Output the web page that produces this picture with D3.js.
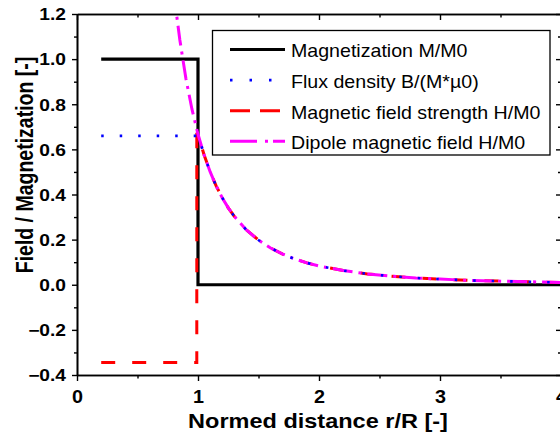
<!DOCTYPE html>
<html lang="en">
<head>
	<meta charset="UTF-8">
	<title>Field / Magnetization</title>
	<script src="https://cdn.jsdelivr.net/npm/d3@7/dist/d3.min.js"></script>
	<style>
		body { margin:0; background:#fff; }
		svg { width:560px; height:437px; display:block; font-family:"Liberation Sans", Arial, sans-serif; }
	</style>
</head>
<body>
<svg></svg>
<script>
// data
var rOuter = [1.0,1.05,1.1,1.15,1.2,1.25,1.3,1.4,1.5,1.6,1.7,1.8,1.9,2.0,2.2,2.4,2.6,2.8,3.0,3.25,3.5,3.75,4.0];
var hOuter = [0.667,0.576,0.501,0.438,0.386,0.341,0.303,0.243,0.198,0.163,0.136,0.114,0.097,0.083,0.063,0.048,0.038,0.030,0.025,0.019,0.016,0.013,0.010];

var magX = [0.2,1.0,1.0,4.0];
var magY = [1.0,1.0,0.0,0.0];

var fluxX = [0.2,1.0].concat(rOuter);
var fluxY = [0.66,0.66].concat(hOuter);

var fieldX = [0.2,0.99,0.99].concat(rOuter);
var fieldY = [-0.345,-0.345,0.667].concat(hOuter);

var dipoleX = [0.8,0.82,0.85,0.9,0.95].concat(rOuter);
var dipoleY = [1.302,1.209,1.085,0.914,0.778].concat(hOuter);

var xTicks = [0,1,2,3,4];
var xMinor = [0.5,1.5,2.5,3.5];
var yTicks = [-0.4,-0.2,0,0.2,0.4,0.6,0.8,1.0,1.2];
var yMinor = [-0.3,-0.1,0.1,0.3,0.5,0.7,0.9,1.1];

var legendLabels = ["Magnetization M/M0","Flux density B/(M*\u00b50)","Magnetic field strength H/M0","Dipole magnetic field H/M0"];

var svg = d3.select("svg");
var loc = {left:77, top:14, right:561, bottom:375};

var xScale = d3.scaleLinear().domain([0,4]).range([loc.left,loc.right]);
var yScale = d3.scaleLinear().domain([-0.4,1.2]).range([loc.bottom,loc.top]);

svg.append("clipPath").attr("id","plotclip")
	.append("rect")
	.attr("x",loc.left).attr("y",loc.top)
	.attr("width",loc.right-loc.left).attr("height",loc.bottom-loc.top);

function zip(xs,ys) {
	return xs.map(function(x,i) { return [x,ys[i]]; });
}

var line = d3.line()
	.x(function(d) { return xScale(d[0]); })
	.y(function(d) { return yScale(d[1]); });

var series = [
	{pts:zip(magX,magY), color:"#000", width:3.2, dash:null, legDash:null},
	{pts:zip(fieldX,fieldY), color:"#ff0000", width:3, dash:"14,17", legDash:"20,10"},
	{pts:zip(dipoleX,dipoleY), color:"#ff00ff", width:3, dash:"20,6,3,6", legDash:"27,8,3,5"},
	{pts:zip(fluxX,fluxY), color:"#0000ff", width:2.6, dash:"2.5,16", legDash:"2.5,17"}
];

var plot = svg.append("g").attr("clip-path","url(#plotclip)");
series.forEach(function(s) {
	plot.append("path")
		.attr("d",line(s.pts))
		.attr("fill","none")
		.attr("stroke",s.color)
		.attr("stroke-width",s.width)
		.attr("stroke-dasharray",s.dash)
		.attr("stroke-linejoin","miter");
});

// axes
function styleAxis(g) {
	g.select(".domain").attr("stroke","#000").attr("stroke-width",1.6);
	g.selectAll(".tick line").attr("stroke","#000").attr("stroke-width",1.4);
}

var bottom = svg.append("g").attr("transform","translate(0,"+loc.bottom+")")
	.call(d3.axisBottom(xScale).tickValues(xTicks).tickSize(6).tickSizeOuter(0).tickFormat(d3.format("d")));
bottom.call(styleAxis);
bottom.selectAll("text")
	.attr("y",15).attr("dy","0.71em")
	.attr("transform","scale(1.07,1)")
	.attr("font-size","18.5px").attr("font-weight","bold").attr("fill","#000")
	.attr("font-family","Liberation Sans, Arial, sans-serif");
svg.append("g").attr("transform","translate(0,"+loc.bottom+")")
	.call(d3.axisBottom(xScale).tickValues(xMinor).tickSize(3.5).tickSizeOuter(0).tickFormat(""))
	.call(styleAxis);

var top = svg.append("g").attr("transform","translate(0,"+loc.top+")")
	.call(d3.axisTop(xScale).tickValues(xTicks).tickSize(-6).tickSizeOuter(0).tickFormat(""))
	.call(styleAxis);
svg.append("g").attr("transform","translate(0,"+loc.top+")")
	.call(d3.axisTop(xScale).tickValues(xMinor).tickSize(-3.5).tickSizeOuter(0).tickFormat(""))
	.call(styleAxis);

var left = svg.append("g").attr("transform","translate("+loc.left+",0)")
	.call(d3.axisLeft(yScale).tickValues(yTicks).tickSize(5).tickSizeOuter(0).tickFormat(d3.format(".1f")));
left.call(styleAxis);
left.selectAll("text")
	.attr("x",-11/1.2).attr("dy","0.36em")
	.attr("transform","scale(1.2,1)")
	.attr("font-size","16px").attr("font-weight","bold").attr("fill","#000")
	.attr("font-family","Liberation Sans, Arial, sans-serif");
svg.append("g").attr("transform","translate("+loc.left+",0)")
	.call(d3.axisLeft(yScale).tickValues(yMinor).tickSize(3).tickSizeOuter(0).tickFormat(""))
	.call(styleAxis);

svg.append("g").attr("transform","translate("+loc.right+",0)")
	.call(d3.axisRight(yScale).tickValues(yTicks).tickSize(-5).tickSizeOuter(0).tickFormat(""))
	.call(styleAxis);
svg.append("g").attr("transform","translate("+loc.right+",0)")
	.call(d3.axisRight(yScale).tickValues(yMinor).tickSize(-3).tickSizeOuter(0).tickFormat(""))
	.call(styleAxis);

// axis titles
svg.append("text")
	.attr("transform","translate(318,428) scale(1.12,1)")
	.attr("text-anchor","middle")
	.attr("font-size","21px").attr("font-weight","bold")
	.text("Normed distance r/R [-]");

svg.append("text")
	.attr("transform","translate(33,165) scale(1.25,1) rotate(-90)")
	.attr("text-anchor","middle")
	.attr("font-size","19.5px").attr("font-weight","bold")
	.text("Field / Magnetization [-]");

// legend
var legend = svg.append("g");
legend.append("rect")
	.attr("x",212.5).attr("y",30.5)
	.attr("width",337.5).attr("height",124.5)
	.attr("fill","#fff").attr("stroke","#000").attr("stroke-width",1.3);

var legOrder = [0,3,1,2];
legOrder.forEach(function(si,i) {
	var s = series[si];
	var ly = 49.5 + i*30.6;
	legend.append("line")
		.attr("x1",230).attr("x2",285)
		.attr("y1",ly).attr("y2",ly)
		.attr("stroke",s.color)
		.attr("stroke-width",s.width)
		.attr("stroke-dasharray",s.legDash);
	legend.append("text")
		.attr("transform","translate(291,"+(ly+7.8)+") scale(1.06,1)")
		.attr("font-size","18.5px")
		.text(legendLabels[i]);
});
</script>
</body>
</html>
